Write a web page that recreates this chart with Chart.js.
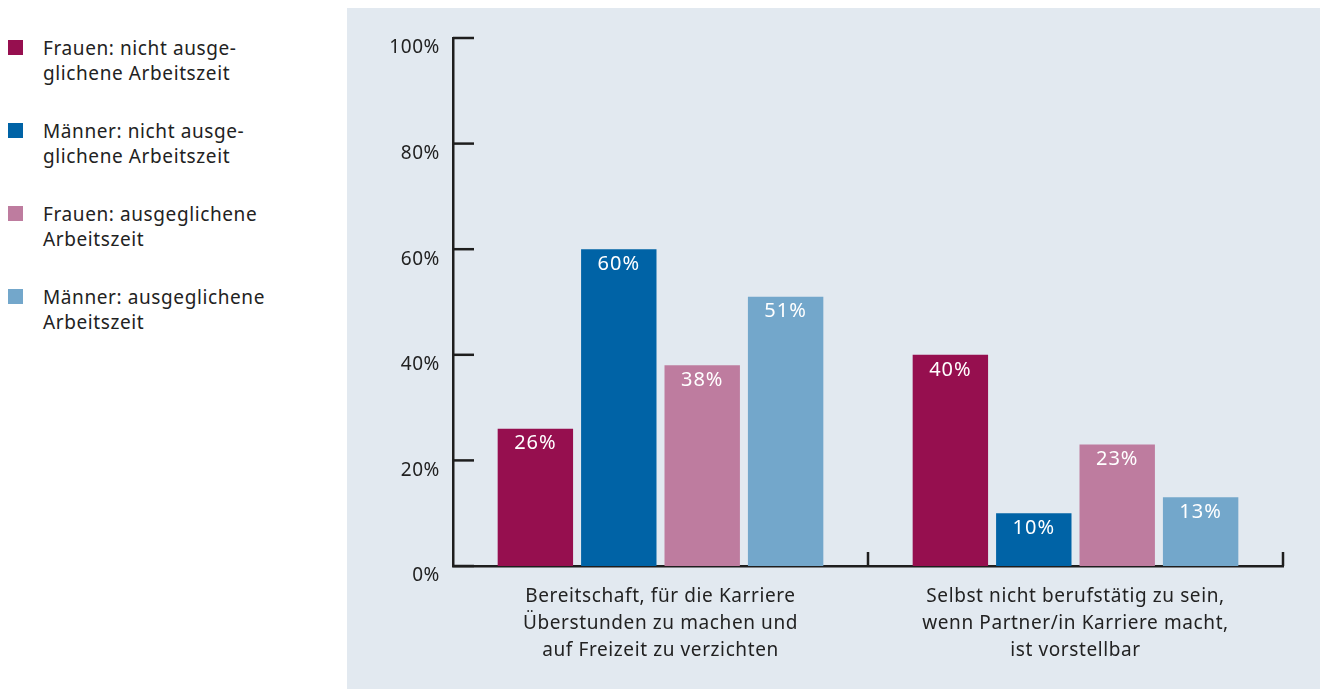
<!DOCTYPE html>
<html>
<head>
<meta charset="utf-8">
<script src="https://cdn.jsdelivr.net/npm/chart.js@4/dist/chart.umd.min.js"></script>
<style>
  html, body { margin: 0; padding: 0; background: #fff; }
  body { width: 1320px; height: 689px; position: relative; overflow: hidden; font-family: "Noto Sans", sans-serif; color: #222; }
  #legend { position: absolute; left: 0; top: 36px; }
  .legend-item { position: relative; height: 83px; }
  .legend-item .box { position: absolute; left: 8px; top: 4px; width: 15px; height: 15px; }
  .legend-item .txt { position: absolute; left: 43px; top: 0; font-size: 19px; line-height: 25px; white-space: nowrap; letter-spacing: 0.6px; }
  #panel { position: absolute; left: 347px; top: 8px; width: 973px; height: 681px; background: #e2e9f0; }
</style>
</head>
<body>
<div id="legend"></div>
<div id="panel"><canvas id="chart" width="973" height="681"></canvas></div>
<script>
// --- DONNEES ---
const categories = [
    ['Bereitschaft, für die Karriere', 'Überstunden zu machen und', 'auf Freizeit zu verzichten'],
    ['Selbst nicht berufstätig zu sein,', 'wenn Partner/in Karriere macht,', 'ist vorstellbar']
];
const seriesNames = [
    ['Frauen: nicht ausge-', 'glichene Arbeitszeit'],
    ['Männer: nicht ausge-', 'glichene Arbeitszeit'],
    ['Frauen: ausgeglichene', 'Arbeitszeit'],
    ['Männer: ausgeglichene', 'Arbeitszeit']
];
const frauenNicht = [26, 40];
const maennerNicht = [60, 10];
const frauenAusg = [38, 23];
const maennerAusg = [51, 13];
const yTicks = [0, 20, 40, 60, 80, 100];

const colors = ['#960f4f', '#0063a6', '#be7c9f', '#73a7cb'];
const values = [frauenNicht, maennerNicht, frauenAusg, maennerAusg];
const font = '"Noto Sans", sans-serif';

// --- LEGENDE ---
const legend = document.getElementById('legend');
seriesNames.forEach((name, i) => {
    const item = document.createElement('div');
    item.className = 'legend-item';
    item.innerHTML = `<span class="box" style="background:${colors[i]}"></span><span class="txt">${name.join('<br>')}</span>`;
    legend.appendChild(item);
});

// un peu d'espacement des lettres, comme dans l'original
const spacing = {
    id: 'spacing',
    beforeLayout(chart) { chart.ctx.letterSpacing = '0.6px'; },
    beforeDraw(chart) { chart.ctx.letterSpacing = '0.6px'; }
};

// ticks vers l'interieur + etiquettes des barres
const customDraw = {
    id: 'customDraw',
    afterDraw(chart) {
        const ctx = chart.ctx;
        const y = chart.scales.y, x = chart.scales.x;
        const area = chart.chartArea;
        ctx.save();
        ctx.strokeStyle = '#1e1e1e';
        ctx.lineWidth = 2.5;
        yTicks.forEach(v => {
            const py = y.getPixelForValue(v);
            ctx.beginPath();
            ctx.moveTo(area.left, py);
            ctx.lineTo(area.left + 21, py);
            ctx.stroke();
        });
        const step = x.getPixelForValue(1) - x.getPixelForValue(0);
        categories.forEach((c, i) => {
            const px = x.getPixelForValue(i) + step / 2;
            ctx.beginPath();
            ctx.moveTo(px, area.bottom);
            ctx.lineTo(px, area.bottom - 14);
            ctx.stroke();
        });
        ctx.fillStyle = '#fff';
        ctx.font = '20px ' + font;
        ctx.letterSpacing = '1px';
        ctx.textAlign = 'center';
        ctx.textBaseline = 'middle';
        chart.data.datasets.forEach((ds, di) => {
            chart.getDatasetMeta(di).data.forEach((bar, j) => {
                ctx.fillText(ds.data[j] + '%', bar.x, bar.y + 15);
            });
        });
        ctx.restore();
    }
};

new Chart(document.getElementById('chart'), {
    type: 'bar',
    data: {
        labels: categories,
        datasets: values.map((d, i) => ({
            label: seriesNames[i].join(' '),
            data: d,
            backgroundColor: colors[i],
            categoryPercentage: 0.804,
            barPercentage: 0.904
        }))
    },
    options: {
        responsive: false,
        animation: false,
        layout: { padding: { left: 0, top: 30, right: 37, bottom: 0 } },
        plugins: { legend: { display: false }, tooltip: { enabled: false } },
        scales: {
            x: {
                afterFit: s => { s.height = 123; },
                grid: { display: false, drawTicks: false },
                border: { display: true, color: '#1e1e1e', width: 2.5 },
                ticks: { color: '#222', padding: 17, font: { family: font, size: 19, lineHeight: 1.42 } }
            },
            y: {
                min: 0, max: 100,
                afterFit: s => { s.width = 106; },
                afterBuildTicks: s => { s.ticks = yTicks.map(v => ({ value: v })); },
                grid: { display: false, drawTicks: false },
                border: { display: true, color: '#1e1e1e', width: 2.5 },
                ticks: { color: '#222', padding: 13, labelOffset: 10, font: { family: font, size: 19 }, callback: v => v + '%' }
            }
        }
    },
    plugins: [spacing, customDraw]
});
</script>
</body>
</html>
